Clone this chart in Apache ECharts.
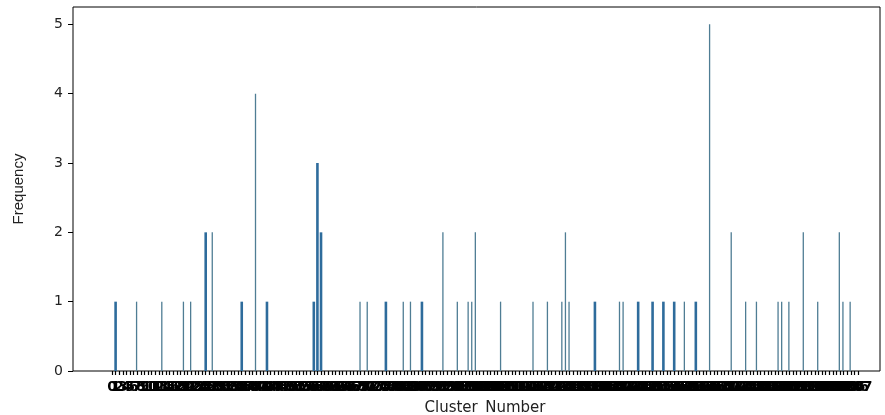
<!DOCTYPE html>
<html>
<head>
<meta charset="utf-8">
<script src="https://cdn.jsdelivr.net/npm/echarts@6/dist/echarts.min.js"></script>
<style>
  html, body { margin: 0; padding: 0; background: #fff; }
  #chart { width: 885px; height: 415px; }
</style>
</head>
<body>
<div id="chart"></div>
<script>
// cluster ids on the x axis (0 .. 207, every id gets a tick + label)
const tickCount = 208;
const clusterTicks = Array.from({ length: tickCount }, (_, i) => String(i));

// clusters that have a bar, and their frequency
const barClusters = [1, 7, 14, 20, 22, 26, 28, 36, 40, 43,
                     56, 57, 58, 69, 71, 76, 81, 83, 86, 92,
                     96, 99, 100, 101, 108, 117, 121, 125, 126, 127,
                     134, 141, 142, 146, 150, 153, 156, 159, 162, 166,
                     172, 176, 179, 185, 186, 188, 192, 196, 202, 203, 205];
const barFreq     = [1, 1, 1, 1, 1, 2, 2, 1, 4, 1,
                     1, 3, 2, 1, 1, 1, 1, 1, 1, 2,
                     1, 1, 1, 2, 1, 1, 1, 1, 2, 1,
                     1, 1, 1, 1, 1, 1, 1, 1, 1, 5,
                     2, 1, 1, 1, 1, 1, 2, 1, 2, 1, 1];
// bars that come out wider/darker in the original render
const wideClusters = [1, 26, 36, 43, 56, 57, 58, 76, 86, 134, 146, 150, 153, 156, 162];

const yTicks = [0, 1, 2, 3, 4, 5];

// one value per category, '-' where a cluster has no bar
const thinData = clusterTicks.map(() => '-');
const wideData = clusterTicks.map(() => '-');
barClusters.forEach((c, i) => {
    if (wideClusters.includes(c)) wideData[c] = barFreq[i];
    else thinData[c] = barFreq[i];
});

const chart = echarts.init(document.getElementById('chart'));
chart.setOption({
    animation: false,
    grid: [
        // outer frame (matplotlib box)
        { left: 73, right: 5, top: 7, bottom: 44, outerBoundsMode: 'none', show: true, borderColor: '#000', borderWidth: 1, backgroundColor: 'transparent' },
        // inner area holding the categories (same side margins as the original)
        { left: 110.2, right: 25.2, top: 7, bottom: 44, outerBoundsMode: 'none' }
    ],
    xAxis: [
        { gridIndex: 0, type: 'value', show: false, min: 0, max: 1 },
        {
            gridIndex: 1,
            type: 'category',
            data: clusterTicks,
            name: 'Cluster_Number',
            nameLocation: 'middle',
            nameGap: 30,
            nameTextStyle: { fontFamily: 'DejaVu Sans', fontSize: 15, color: '#222' },
            axisLine: { show: false },
            axisTick: { show: true, length: 4, alignWithLabel: true, interval: 0, lineStyle: { color: '#000', width: 1.2 } },
            axisLabel: { show: true, interval: 0, fontFamily: 'DejaVu Sans', fontSize: 14, fontWeight: 'bold', color: '#000', margin: 9 },
            splitLine: { show: false }
        }
    ],
    yAxis: [
        { gridIndex: 0, type: 'value', show: false, min: 0, max: 1 },
        {
            gridIndex: 1,
            type: 'value',
            min: 0,
            max: 5.25,
            offset: 37.2,
            name: 'Frequency',
            nameLocation: 'middle',
            nameRotate: 90,
            nameGap: 47,
            nameTextStyle: { fontFamily: 'Liberation Sans', fontSize: 15, color: '#222' },
            axisLine: { show: false },
            axisTick: { show: true, length: 5, lineStyle: { color: '#000' }, customValues: yTicks },
            axisLabel: { fontFamily: 'DejaVu Sans', fontSize: 14, color: '#222', margin: 10, customValues: yTicks },
            splitLine: { show: false }
        }
    ],
    series: [
        {
            name: 'thin', type: 'bar', xAxisIndex: 1, yAxisIndex: 1, data: thinData, barWidth: 1.3, barGap: '-100%',
            itemStyle: { color: '#4f7d94' }
        },
        {
            name: 'wide', type: 'bar', xAxisIndex: 1, yAxisIndex: 1, data: wideData, barWidth: 2.6, barGap: '-100%',
            itemStyle: { color: '#2e6c9c' }
        }
    ]
});
</script>
</body>
</html>
